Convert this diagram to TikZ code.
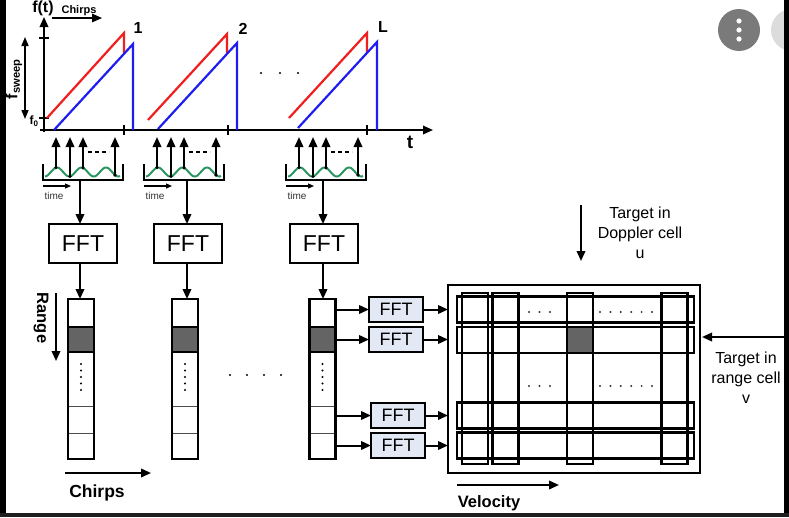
\documentclass[tikz,border=0pt]{standalone}
\usepackage{fontspec}
\setmainfont{Liberation Sans}
\usetikzlibrary{arrows.meta}

\definecolor{chirpred}{RGB}{240,30,30}
\definecolor{chirpblue}{RGB}{30,30,240}
\definecolor{wavegreen}{RGB}{40,150,95}
\definecolor{fftfill}{RGB}{226,233,245}
\definecolor{cellgray}{RGB}{100,100,100}
\definecolor{btndark}{RGB}{122,122,122}
\definecolor{btnlight}{RGB}{220,220,220}

\newcommand{\fsz}[1]{\fontsize{#1}{#1}\selectfont}

\begin{document}
\begin{tikzpicture}[x=1pt,y=-1pt,
  every node/.style={inner sep=0pt,outer sep=0pt},
  axisline/.style={line width=1.8pt,black},
  tip/.style={-{Triangle[length=10pt,width=8.5pt]}},
  conn/.style={line width=2pt,tip},
  smalltip/.style={-{Triangle[length=6pt,width=5pt]}},
  chirp/.style={line width=2.2pt},
  fftbox/.style={draw,line width=2.2pt,fill=white,minimum width=68pt,minimum height=39pt,font=\fsz{23}},
  fftsmall/.style={draw,line width=2pt,fill=fftfill,minimum width=54pt,minimum height=25pt,font=\fsz{18}},
  colbox/.style={draw,line width=2.2pt,minimum width=26pt,minimum height=160pt},
  strip/.style={draw,line width=2.4pt},
  note/.style={align=center,font=\fontsize{16}{20}\selectfont},
]
\useasboundingbox (0,0) rectangle (789,517);
\fill[white] (0,0) rectangle (789,517);

% ---------- chirp sequence f(t) ----------
\draw[axisline,tip] (44,132) -- (44,17);
\draw[axisline,tip] (40,130) -- (433,130);
\foreach \x in {124,228,367} \draw[axisline] (\x,125) -- (\x,135);
\draw[axisline] (39,38) -- (49,38);
\draw[axisline] (39,118) -- (49,118);
\node[font=\bfseries\fsz{16}] (ft) at (43,8) {f(t)};
\node[font=\bfseries\fsz{11}] (chirpslbl) at (79,11) {Chirps};
\coordinate (cha) at (52,18);
\coordinate (chb) at (102,18);
\draw[line width=1.5pt,tip] (cha) -- (chb);
\coordinate (swa) at (25,37);
\coordinate (swb) at (25,119);
\draw[line width=1.5pt,{Triangle[length=9pt,width=7pt]}-{Triangle[length=9pt,width=7pt]}] (swa) -- (swb);
\node[rotate=90,font=\bfseries\fsz{16}] (fsweep) at (14,79) {f\textsubscript{sweep}};
\node[font=\bfseries\fsz{12}] (fzero) at (34,121) {f\textsubscript{0}};
\node[font=\bfseries\fsz{19}] (tlbl) at (410,142) {t};

\draw[chirpred,chirp]  (47,118) -- (124,33) -- (124,53);
\draw[chirpblue,chirp] (54,130) -- (133,44) -- (133,130);
\draw[chirpred,chirp]  (148,120) -- (227,34) -- (227,53);
\draw[chirpblue,chirp] (158,129) -- (237,43) -- (237,130);
\draw[chirpred,chirp]  (289,118) -- (367,33) -- (367,52);
\draw[chirpblue,chirp] (298,128) -- (377,42) -- (377,130);
\node[font=\bfseries\fsz{16}] (n1) at (138,28) {1};
\node[font=\bfseries\fsz{16}] (n2) at (243,29) {2};
\node[font=\bfseries\fsz{16}] (nL) at (383,27) {L};
\foreach \x in {261,280,298} \fill (\x,73) circle (1.1);

% ---------- range FFT per chirp ----------
\node[fftbox] (fft1) at (83,243.5) {FFT};
\node[fftbox] (fft2) at (188,243.5) {FFT};
\node[fftbox] (fft3) at (324,243.5) {FFT};

\foreach \bl/\dx/\fn in {43/37/1,144/43/2,286/37/3} {
  \begin{scope}[shift={(\bl,0)}]
    \draw[line width=1.8pt] (0,164) -- (0,180) -- (80,180) -- (80,164);
    \draw[wavegreen,line width=2pt] plot[domain=2:77,samples=90,smooth] (\x,{172-4.5*cos((\x-14)*14.694)});
    \foreach \a in {13,27,40,72} {
      \fill (\a,{172-4.5*cos((\a-14)*14.694)}) circle (1.8);
      \draw[conn] (\a,{172-4.5*cos((\a-14)*14.694)}) -- (\a,137);
    }
    \draw[line width=2pt,dash pattern=on 4pt off 3pt] (45,152) -- (66,152);
    \draw[line width=1.2pt,smalltip] (0,186) -- (28,186);
    \node[font=\fsz{10},text=black!80] at (11,196) {time};
    \coordinate (s\fn) at (\dx,180);
  \end{scope}
  \draw[conn] (s\fn) -- (s\fn |- fft\fn.north);
}

% ---------- range profiles (columns) ----------
\foreach \cx/\nm in {81/c1,185/c2,322.5/c3} {
  \fill[cellgray] (\cx-13,327) rectangle (\cx+13,352);
  \draw[line width=1pt,black!70] (\cx-13,406) -- (\cx+13,406);
  \draw[line width=1pt,black!70] (\cx-13,433) -- (\cx+13,433);
  \draw[line width=2.2pt] (\cx-13,327) rectangle (\cx+13,352);
  \foreach \yy in {364,370.5,377,383.5,390} \fill (\cx,\yy) circle (1.1);
  \node[colbox] (\nm) at (\cx,379) {};
}
\foreach \i in {1,2,3} \draw[conn] (s\i |- fft\i.south) -- (s\i |- c\i.north);
\foreach \x in {230,247,264,281} \fill (\x,375) circle (1.2);

\coordinate (rga) at (56,293);
\coordinate (rgb) at (56,361);
\draw[conn] (rga) -- (rgb);
\node[rotate=-90,font=\bfseries\fsz{16.5}] (range) at (41,318) {Range};
\coordinate (cra) at (65,473);
\coordinate (crb) at (151,473);
\draw[conn] (cra) -- (crb);
\node[font=\bfseries\fsz{17.5}] (chirps) at (97,493) {Chirps};

% ---------- Doppler FFTs ----------
\node[fftsmall] (fa) at (396,309.5) {FFT};
\node[fftsmall] (fb) at (396,339.5) {FFT};
\node[fftsmall] (fc) at (398,415.5) {FFT};
\node[fftsmall] (fd) at (398,445.5) {FFT};

% ---------- range-Doppler map ----------
\node[draw,line width=2pt,minimum width=252pt,minimum height=188pt] (mat) at (574,379) {};
\fill[cellgray] (567,327) rectangle (593,353);
\foreach \y in {309.5,340,415.5,445.5} \draw[strip] (457,\y-13) rectangle (694,\y+13);
\foreach \x in {475,505.5,580,674.5} \draw[strip] (\x-13,293) rectangle (\x+13,464);
\foreach \y in {312,386} {
  \foreach \x in {529,539.5,550} \fill[black!80] (\x,\y) circle (1.1);
  \foreach \x in {600,610.4,620.8,631.2,641.6,652} \fill[black!80] (\x,\y) circle (1.1);
}

\foreach \f in {fa,fb,fc,fd} {
  \draw[conn] (\f.west -| c3.east) -- (\f.west);
  \draw[conn] (\f.east) -- (\f.east -| mat.west);
}

\coordinate (dpa) at (581,205);
\coordinate (dpb) at (581,261);
\draw[conn] (dpa) -- (dpb);
\node[note] (dtxt) at (640,233) {Target in\\Doppler cell\\u};
\coordinate (rca) at (784,337);
\coordinate (rcb) at (702,337);
\draw[conn] (rca) -- (rcb);
\node[note] (rtxt) at (746,378) {Target in\\range cell\\v};
\coordinate (vla) at (457,485);
\coordinate (vlb) at (559,485);
\draw[conn] (vla) -- (vlb);
\node[font=\bfseries\fsz{16.5}] (vel) at (489,503) {Velocity};

% ---------- window frame and buttons ----------
\fill[btndark] (739,30) circle (21);
\foreach \y in {21,30,39} \fill[white] (739,\y) circle (2.6);
\fill[btnlight] (792,30) circle (21);
\fill[black] (0,0) rectangle (6,517);
\fill[black] (784,0) rectangle (789,517);
\fill[black!88] (0,513) rectangle (789,517);
\end{tikzpicture}
\end{document}
